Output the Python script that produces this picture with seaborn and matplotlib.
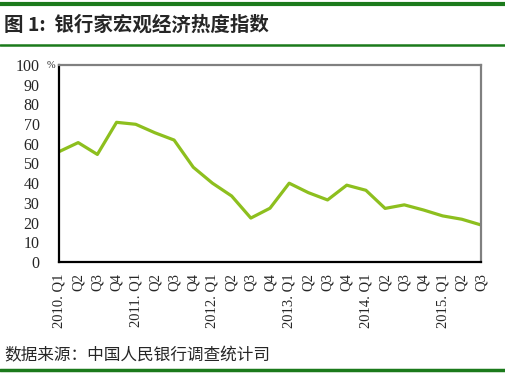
import matplotlib
matplotlib.use("Agg")
import matplotlib.pyplot as plt
from matplotlib.lines import Line2D
import pandas as pd
import seaborn as sns

# 银行家宏观经济热度指数 (%)
quarters = ["2010. Q1", "Q2", "Q3", "Q4",
            "2011. Q1", "Q2", "Q3", "Q4",
            "2012. Q1", "Q2", "Q3", "Q4",
            "2013. Q1", "Q2", "Q3", "Q4",
            "2014. Q1", "Q2", "Q3", "Q4",
            "2015. Q1", "Q2", "Q3"]
index_values = [56.0, 60.6, 54.6, 70.9,
                69.9, 65.6, 61.9, 48.1,
                40.0, 33.5, 22.3, 27.3,
                40.0, 35.2, 31.5, 39.0,
                36.4, 27.2, 29.0, 26.4,
                23.4, 21.7, 18.8]
y_ticks = [0, 10, 20, 30, 40, 50, 60, 70, 80, 90, 100]

df = pd.DataFrame({"pos": range(len(quarters)), "value": index_values})

sns.set_style("white")
plt.rcParams["font.family"] = ["Liberation Serif", "Noto Sans CJK SC"]

fig = plt.figure(figsize=(5.06, 3.74), dpi=100)
ax = fig.add_axes([0.1166, 0.2995, 0.834, 0.5267])

sns.lineplot(data=df, x="pos", y="value", color="#8dbf1e", linewidth=2.3, ax=ax)

ax.set_xlim(0, len(quarters) - 1)
ax.set_ylim(0, 100)
ax.set_xticks(range(len(quarters)))
ax.set_xticklabels(quarters, rotation=90, fontsize=10.5, va="top")
ax.set_yticks(y_ticks)
ax.set_yticklabels([str(v) for v in y_ticks], fontsize=11.5)
ax.set_xlabel("")
ax.set_ylabel("")
ax.tick_params(axis="both", direction="in", length=4, width=1, color="black")
ax.tick_params(axis="y", pad=14)
ax.tick_params(axis="x", pad=8)

for side in ["left", "bottom"]:
    ax.spines[side].set_color("black")
    ax.spines[side].set_linewidth(1.6)
for side in ["top", "right"]:
    ax.spines[side].set_color("#808080")
    ax.spines[side].set_linewidth(1.6)

ax.text(-0.008, 1.0, "%", transform=ax.transAxes, ha="right", va="center", fontsize=7.5)

# title, source and green rules
green = "#1b7a1b"
fig.add_artist(Line2D([0, 1], [0.99, 0.99], color=green, linewidth=3))
fig.add_artist(Line2D([0, 1], [0.880, 0.880], color=green, linewidth=1.8))
fig.add_artist(Line2D([0, 1], [0.012, 0.012], color=green, linewidth=2.5))
fig.text(0.008, 0.932, "图 1:  银行家宏观经济热度指数", fontsize=14, fontweight="bold",
         family=["Noto Sans CJK SC"], va="center", ha="left")
fig.text(0.008, 0.050, "数据来源：中国人民银行调查统计司", fontsize=12,
         family=["Noto Sans CJK SC"], va="center", ha="left")

fig.savefig("out.png", dpi=100)
